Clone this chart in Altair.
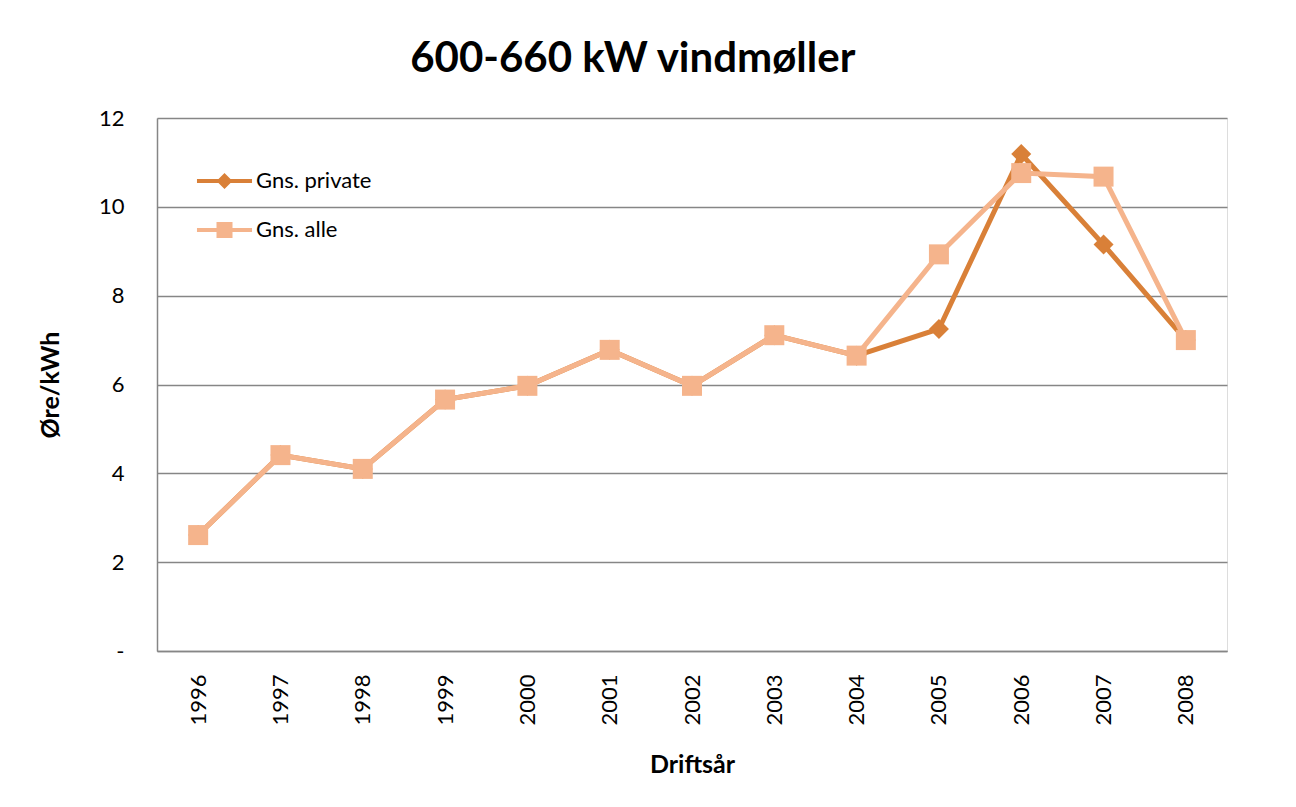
import altair as alt
import pandas as pd

# ---- data ----
years = ["1996", "1997", "1998", "1999", "2000", "2001", "2002",
         "2003", "2004", "2005", "2006", "2007", "2008"]
gns_private = [2.61, 4.41, 4.10, 5.66, 5.97, 6.78, 5.97, 7.11, 6.65, 7.25, 11.19, 9.15, 7.00]
gns_alle = [2.61, 4.41, 4.10, 5.66, 5.97, 6.78, 5.97, 7.11, 6.65, 8.93, 10.76, 10.68, 7.00]
series_names = ["Gns. private", "Gns. alle"]
series_colors = ["#D98038", "#F5B48C"]
y_ticks = [0, 2, 4, 6, 8, 10, 12]

rows = []
for name, vals in zip(series_names, [gns_private, gns_alle]):
    for yr, v in zip(years, vals):
        rows.append({"year": yr, "value": v, "series": name})
df = pd.DataFrame(rows)

FONT = "Lato"
GRID = "#868686"

# legend symbols: line stub + marker (custom paths)
path_private = ("M-1.72,-0.125L-0.375,-0.125L0,-0.5L0.375,-0.125L1.72,-0.125"
                "L1.72,0.125L0.375,0.125L0,0.5L-0.375,0.125L-1.72,0.125Z")
path_alle = ("M-1.72,-0.125L-0.5,-0.125L-0.5,-0.5L0.5,-0.5L0.5,-0.125L1.72,-0.125"
             "L1.72,0.125L0.5,0.125L0.5,0.5L-0.5,0.5L-0.5,0.125L-1.72,0.125Z")

x_enc = alt.X(
    "year:O",
    sort=years,
    axis=alt.Axis(
        title="Driftsår",
        labelAngle=270,
        labelFont=FONT,
        labelFontSize=22,
        labelColor="#000000",
        labelPadding=23,
        ticks=False,
        grid=False,
        domainColor=GRID,
        domainWidth=1.5,
        titleFont=FONT,
        titleFontSize=25,
        titleFontWeight="bold",
        titleColor="#000000",
        titlePadding=27,
    ),
)
y_enc = alt.Y(
    "value:Q",
    scale=alt.Scale(domain=[0, 12], nice=False, zero=True),
    axis=alt.Axis(
        title="Øre/kWh",
        values=y_ticks,
        labelExpr="datum.value == 0 ? '-' : datum.label",
        labelFont=FONT,
        labelFontSize=22,
        labelColor="#000000",
        labelPadding=33,
        ticks=False,
        grid=True,
        gridColor=GRID,
        gridWidth=1.3,
        domainColor=GRID,
        domainWidth=1.5,
        titleFont=FONT,
        titleFontSize=25,
        titleFontWeight="bold",
        titleColor="#000000",
        titlePadding=35,
    ),
)

base = alt.Chart(df)

layers = []
marker_shapes = ["diamond", "square"]
for name, col, shp in zip(series_names, series_colors, marker_shapes):
    sub = base.transform_filter(alt.datum.series == name)
    layers.append(sub.mark_line(color=col, strokeWidth=5).encode(x=x_enc, y=y_enc))
    layers.append(
        sub.mark_point(shape=shp, filled=True, color=col, size=400, opacity=1)
        .encode(x=x_enc, y=y_enc)
    )

legend_cfg = dict(
    title=None,
    orient="none",
    legendX=51.5,
    legendY=47,
    padding=0,
    symbolSize=1024,
    symbolStrokeWidth=0,
    symbolOpacity=1,
    labelFont=FONT,
    labelFontSize=22,
    labelColor="#000000",
    labelOffset=15.5,
    rowPadding=22,
)
legend_layer = base.transform_filter("false").mark_point(filled=True).encode(
    x=x_enc,
    y=y_enc,
    color=alt.Color("series:N",
                    scale=alt.Scale(domain=series_names, range=series_colors),
                    legend=alt.Legend(**legend_cfg)),
    shape=alt.Shape("series:N",
                    scale=alt.Scale(domain=series_names, range=[path_private, path_alle]),
                    legend=alt.Legend(**legend_cfg)),
)
layers.append(legend_layer)

chart = (
    alt.layer(*layers)
    .properties(
        width=1070,
        height=533,
        autosize=alt.AutoSizeParams(type="none"),
        padding={"left": 149, "top": 110, "right": 61, "bottom": 148},
        title=alt.TitleParams(
            "600-660 kW vindmøller",
            font=FONT,
            fontSize=42,
            fontWeight="bold",
            color="#000000",
            anchor="middle",
            frame="bounds",
            offset=26,
        ),
    )
    .configure_view(stroke=None)
    .configure(background="white")
)

chart.save("out.html", embed_options={"renderer": "svg", "actions": False})
